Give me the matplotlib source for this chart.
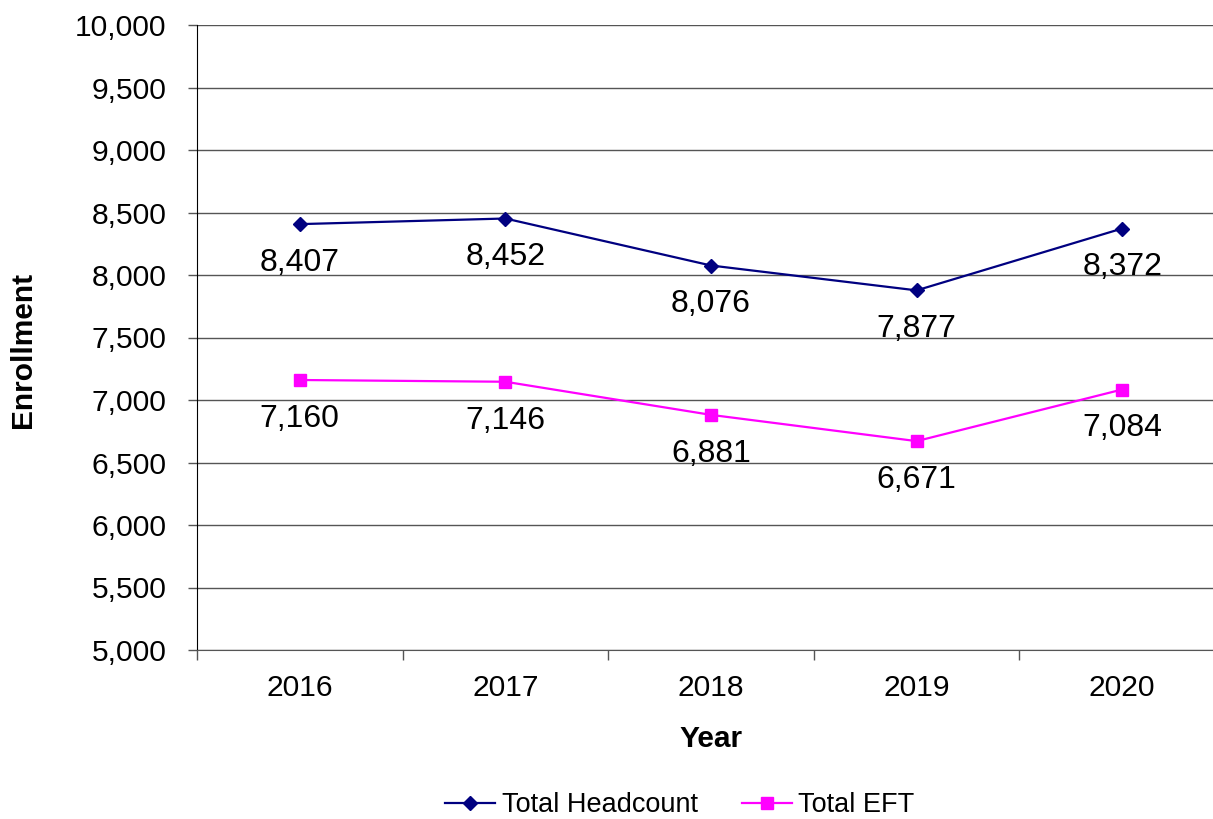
import matplotlib
matplotlib.use("Agg")
import matplotlib.pyplot as plt
from matplotlib.ticker import FuncFormatter, FixedLocator

years = ["2016", "2017", "2018", "2019", "2020"]
headcount = [8407, 8452, 8076, 7877, 8372]
eft = [7160, 7146, 6881, 6671, 7084]

plt.rcParams['font.family'] = ['Liberation Sans', 'DejaVu Sans']

W, H = 1213, 819
fig = plt.figure(figsize=(W/100, H/100), dpi=100)
left, right, top, bottom = 197, 1225, 25, 650
ax = fig.add_axes([left/W, (H-bottom)/H, (right-left)/W, (bottom-top)/H])

x = list(range(len(years)))
ax.plot(x, headcount, color='#000080', marker='D', markersize=7, lw=1.6, label='Total Headcount', zorder=3)
ax.plot(x, eft, color='#FF00FF', marker='s', markersize=9, lw=1.6, label='Total EFT', zorder=3)

for xi, v in zip(x, headcount):
    ax.annotate(f"{v:,}", (xi, v), xytext=(0, -28), textcoords='offset points',
                ha='center', va='center', fontsize=23)
for xi, v in zip(x, eft):
    ax.annotate(f"{v:,}", (xi, v), xytext=(0, -28), textcoords='offset points',
                ha='center', va='center', fontsize=23)

ax.set_xlim(-0.5, 4.5)
ax.set_ylim(5000, 10000)
ax.set_yticks(range(5000, 10001, 500))
ax.yaxis.set_major_formatter(FuncFormatter(lambda v, p: f"{int(v):,}"))
ax.set_xticks(x)
ax.set_xticklabels(years)
ax.xaxis.set_minor_locator(FixedLocator([i - 0.5 for i in range(len(years) + 1)]))
ax.tick_params(axis='x', which='major', length=0, pad=17, labelsize=21.6)
ax.tick_params(axis='x', which='minor', length=7, width=1, color='#555555')
ax.tick_params(axis='y', which='major', length=6.5, width=1, color='#555555', labelsize=21.6, pad=15.5)
ax.grid(axis='y', color='#555555', lw=1)
ax.set_axisbelow(True)
for s in ['top', 'right']:
    ax.spines[s].set_visible(False)
ax.spines['left'].set_color('black')
ax.spines['bottom'].set_color('#555555')

fig.text(711/W, 1 - 739/H, 'Year', fontsize=21.5, fontweight='bold', ha='center', va='center')
fig.text(23/W, 1 - 350/H, 'Enrollment', fontsize=21.5, fontweight='bold', ha='center', va='center',
         rotation=90)

fig.legend(loc='center', bbox_to_anchor=(680/W, 1 - 805/H), ncol=2, frameon=False,
           fontsize=19.5, handlelength=1.85, columnspacing=1.6, handletextpad=0.25)

fig.savefig('out.png', dpi=100)
